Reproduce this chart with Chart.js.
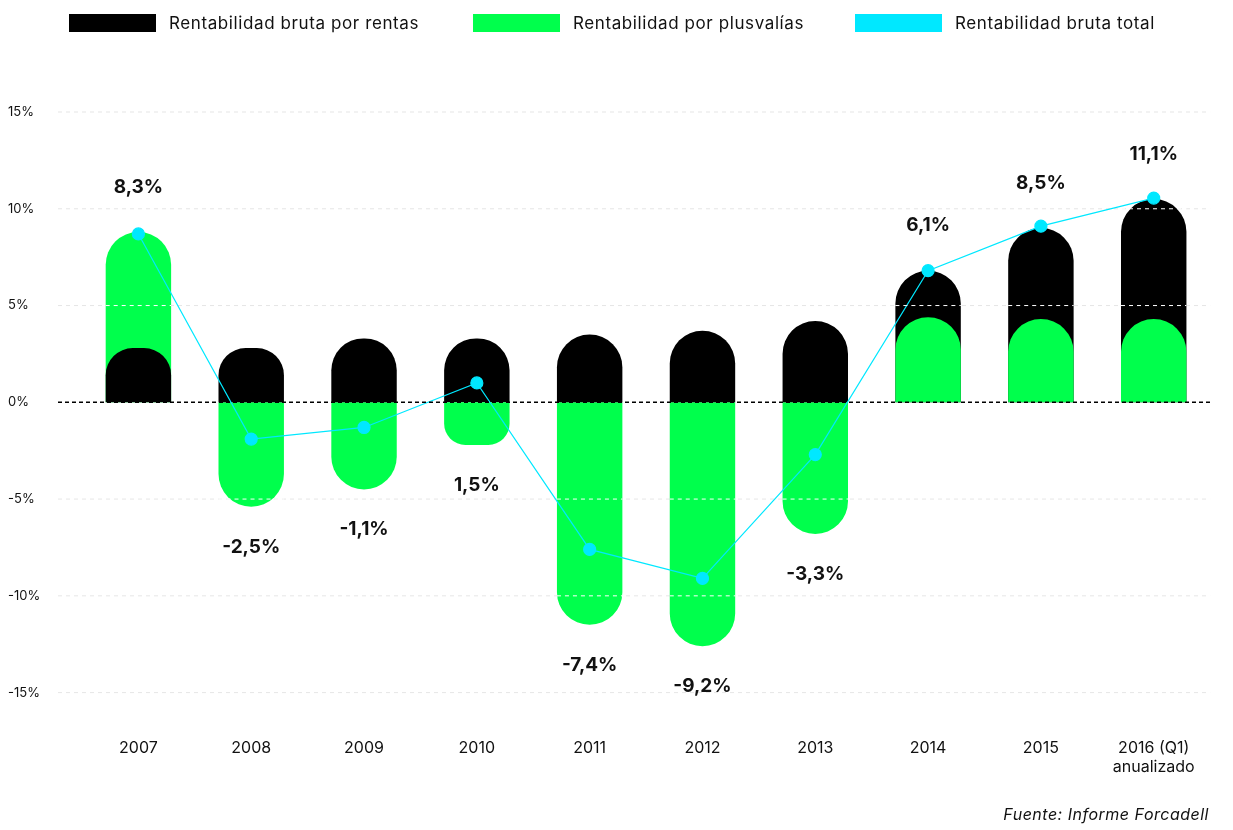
<!DOCTYPE html>
<html>
<head>
<meta charset="utf-8">
<script src="https://cdn.jsdelivr.net/npm/chart.js@4"></script>
<style>
  body { margin: 0; background: #fff; font-family: Inter, "Open Sans", sans-serif; overflow: hidden; }
  #wrap { position: relative; width: 1233px; height: 830px; }
  .lg { position: absolute; top: 13px; font-size: 17px; letter-spacing: 0.6px; color: #111; white-space: nowrap; }
  .lg span.box { display: inline-block; width: 87px; height: 18px; margin-right: 13px; vertical-align: -3px; }
  .src { position: absolute; right: 24px; top: 804px; font-style: italic; font-size: 16px; letter-spacing: 0.5px; color: #111; }
</style>
</head>
<body>
<div id="wrap">
  <canvas id="c" width="1233" height="830"></canvas>
  <div class="lg" style="left:69px"><span class="box" style="background:#000"></span>Rentabilidad bruta por rentas</div>
  <div class="lg" style="left:473px"><span class="box" style="background:#00ff4c"></span>Rentabilidad por plusvalías</div>
  <div class="lg" style="left:855px"><span class="box" style="background:#00e8ff"></span>Rentabilidad bruta total</div>
  <div class="src">Fuente: Informe Forcadell</div>
</div>
<script>
const years = ["2007", "2008", "2009", "2010", "2011", "2012", "2013", "2014", "2015", ["2016 (Q1)", "anualizado"]];
const rentas = [2.8, 2.8, 3.3, 3.3, 3.5, 3.7, 4.2, 6.8, 9.0, 10.5];
const plusvalias = [8.8, -5.4, -4.5, -2.2, -11.5, -12.6, -6.8, 4.4, 4.3, 4.3];
const total = [8.7, -1.9, -1.3, 1.0, -7.6, -9.1, -2.7, 6.8, 9.1, 10.55];
const totalLabels = ["8,3%", "-2,5%", "-1,1%", "1,5%", "-7,4%", "-9,2%", "-3,3%", "6,1%", "8,5%", "11,1%"];
const yTicks = [15, 10, 5, 0, -5, -10, -15];

// the shorter of the two bars is drawn in front
const greenFront = plusvalias.map((v, i) => Math.abs(v) <= rentas[i]);
const rentasFront = rentas.map((v, i) => greenFront[i] ? null : v);
const rentasBack = rentas.map((v, i) => greenFront[i] ? v : null);
const plusFront = plusvalias.map((v, i) => greenFront[i] ? v : null);
const plusBack = plusvalias.map((v, i) => greenFront[i] ? null : v);

const decor = {
  id: "decor",
  beforeDatasetsDraw(chart) {
    const { ctx, chartArea, scales: { y } } = chart;
    ctx.save();
    ctx.font = "13px Inter, sans-serif";
    ctx.fillStyle = "#111";
    ctx.textBaseline = "middle";
    yTicks.forEach(t => {
      const py = y.getPixelForValue(t);
      ctx.fillText(t + "%", 8, py);
      if (t !== 0) {
        ctx.strokeStyle = "#e6e6e6";
        ctx.setLineDash([4, 4]);
        ctx.lineWidth = 1;
        ctx.beginPath(); ctx.moveTo(58, py); ctx.lineTo(chartArea.right, py); ctx.stroke();
      }
    });
    ctx.restore();
  },
  afterDatasetsDraw(chart) {
    const { ctx, chartArea, scales: { y } } = chart;
    ctx.save();
    [0, 1, 2, 3].forEach(di => {
      chart.getDatasetMeta(di).data.forEach(bar => {
        if (bar.skip || isNaN(bar.y)) return;
        const top = Math.min(bar.y, bar.base), bot = Math.max(bar.y, bar.base);
        yTicks.forEach(t => {
          if (t === 0) return;
          const py = y.getPixelForValue(t);
          if (py > top + 2 && py < bot - 2) {
            ctx.strokeStyle = "#fff"; ctx.setLineDash([4, 4]); ctx.lineWidth = 1;
            ctx.beginPath(); ctx.moveTo(bar.x - bar.width / 2, py); ctx.lineTo(bar.x + bar.width / 2, py); ctx.stroke();
          }
        });
      });
    });
    const z = y.getPixelForValue(0);
    ctx.strokeStyle = "#000"; ctx.setLineDash([4, 3]); ctx.lineWidth = 1.5;
    ctx.beginPath(); ctx.moveTo(58, z); ctx.lineTo(chartArea.right, z); ctx.stroke();
    ctx.restore();
  },
  afterDraw(chart) {
    const { ctx, scales: { x, y } } = chart;
    ctx.save();
    ctx.font = "bold 19px Inter, sans-serif";
    ctx.fillStyle = "#111";
    ctx.textAlign = "center";
    ctx.textBaseline = "middle";
    totalLabels.forEach((txt, i) => {
      const px = x.getPixelForValue(i);
      const top = y.getPixelForValue(Math.max(rentas[i], plusvalias[i]));
      const bot = y.getPixelForValue(Math.min(0, plusvalias[i]));
      const py = total[i] > 0 && i !== 3 ? top - 45 : bot + 40;
      ctx.fillText(txt, px, py);
    });
    ctx.restore();
  }
};

const barStyle = { type: "bar", grouped: false, barPercentage: 0.58, categoryPercentage: 1, borderRadius: 40, borderSkipped: "start" };

new Chart(document.getElementById("c"), {
  data: {
    labels: years,
    datasets: [
      { ...barStyle, label: "rentas", data: rentasFront, backgroundColor: "#000", order: 2 },
      { ...barStyle, label: "plusvalias", data: plusFront, backgroundColor: "#00ff4c", order: 2 },
      { ...barStyle, label: "rentas", data: rentasBack, backgroundColor: "#000", order: 3 },
      { ...barStyle, label: "plusvalias", data: plusBack, backgroundColor: "#00ff4c", order: 3 },
      { type: "line", label: "total", data: total, borderColor: "#00e8ff", backgroundColor: "#00e8ff",
        borderWidth: 1.2, pointRadius: 6, pointHoverRadius: 6, order: 1 }
    ]
  },
  options: {
    responsive: false,
    animation: false,
    layout: { padding: { left: 82, right: -32, top: 112, bottom: 15 } },
    plugins: { legend: { display: false }, tooltip: { enabled: false } },
    scales: {
      x: { grid: { display: false }, border: { display: false },
        ticks: { color: "#111", font: { size: 16, family: "Inter" }, padding: 38 } },
      y: { min: -15, max: 15, display: false }
    }
  },
  plugins: [decor]
});
</script>
</body>
</html>
